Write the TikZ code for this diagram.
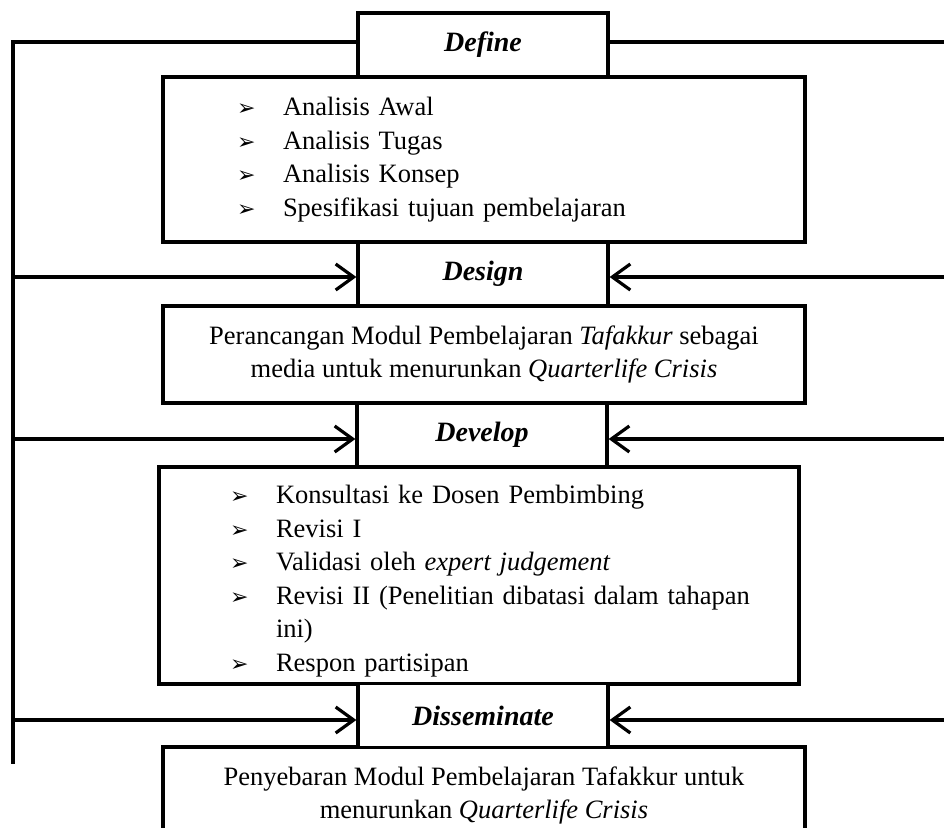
\documentclass[tikz,border=0pt]{standalone}
\usepackage{fontspec}
\setmainfont{Liberation Serif}
\newfontfamily\dingfont{DejaVu Sans}
\usetikzlibrary{arrows.meta}

\newcommand{\itm}{\makebox[46pt][l]{\dingfont\fontsize{22}{22}\selectfont ➢}}

\begin{document}
\begin{tikzpicture}[x=1pt, y=-1pt,
      every node/.style = {shape=rectangle, draw, line width=3.2pt, fill=white},
      stage/.style = {minimum width=250pt, minimum height=64pt,
        font=\fontsize{28}{30}\selectfont\bfseries\itshape},
      content/.style = {minimum width=642pt, align=center,
        font=\fontsize{26.5}{33.5}\selectfont},
      steps/.style = {content, align=left, inner xsep=74pt, text width=494pt},
      link/.style = {line width=3.2pt},
      feed/.style = {link, -{Straight Barb[length=18pt, width=26pt]}}]
  \useasboundingbox (0,0) rectangle (944,827);

  % content of each stage
  \node[steps, minimum height=165pt] (definebox) at (484,159.5)
    {\itm Analisis Awal\\
     \itm Analisis Tugas\\
     \itm Analisis Konsep\\
     \itm Spesifikasi tujuan pembelajaran};
  \node[content, minimum height=97pt] (designbox) at (484,354.5)
    {Perancangan Modul Pembelajaran \textit{Tafakkur} sebagai\\
     media untuk menurunkan \textit{Quarterlife Crisis}};
  \node[steps, minimum width=640pt, minimum height=217pt, inner xsep=71pt, text width=498pt]
    (developbox) at (479,575.5)
    {\rule{0pt}{30pt}\itm Konsultasi ke Dosen Pembimbing\\
     \itm Revisi I\\
     \itm Validasi oleh \textit{expert judgement}\\
     \itm \mbox{Revisi II (Penelitian dibatasi dalam tahapan}\\
     \hspace*{46pt}ini)\\
     \itm Respon partisipan};
  \node[content, minimum height=97pt] (dissbox) at (484,795.5)
    {Penyebaran Modul Pembelajaran Tafakkur untuk\\
     menurunkan \textit{Quarterlife Crisis}};

  % stage titles
  \node[stage] (define) at (483,45) {Define};
  \node[stage] (design) at (483,274) {Design};
  \node[stage] (develop) at (482,435) {Develop};
  \node[stage] (disseminate) at (483,715.5) {Disseminate};

  % feedback lines
  \coordinate (spine) at (13,764);
  \coordinate (rimA) at (944,42);
  \coordinate (rimB) at (944,277);
  \coordinate (rimC) at (944,439);
  \coordinate (rimD) at (944,720);

  \draw[link] (define.west |- rimA) -| (spine);
  \draw[link] (define.east |- rimA) -- (rimA);
  \draw[feed] (spine |- rimB) -- (design.west |- rimB);
  \draw[feed] (spine |- rimC) -- (develop.west |- rimC);
  \draw[feed] (spine |- rimD) -- (disseminate.west |- rimD);
  \draw[feed] (rimB) -- (design.east |- rimB);
  \draw[feed] (rimC) -- (develop.east |- rimC);
  \draw[feed] (rimD) -- (disseminate.east |- rimD);
\end{tikzpicture}
\end{document}
